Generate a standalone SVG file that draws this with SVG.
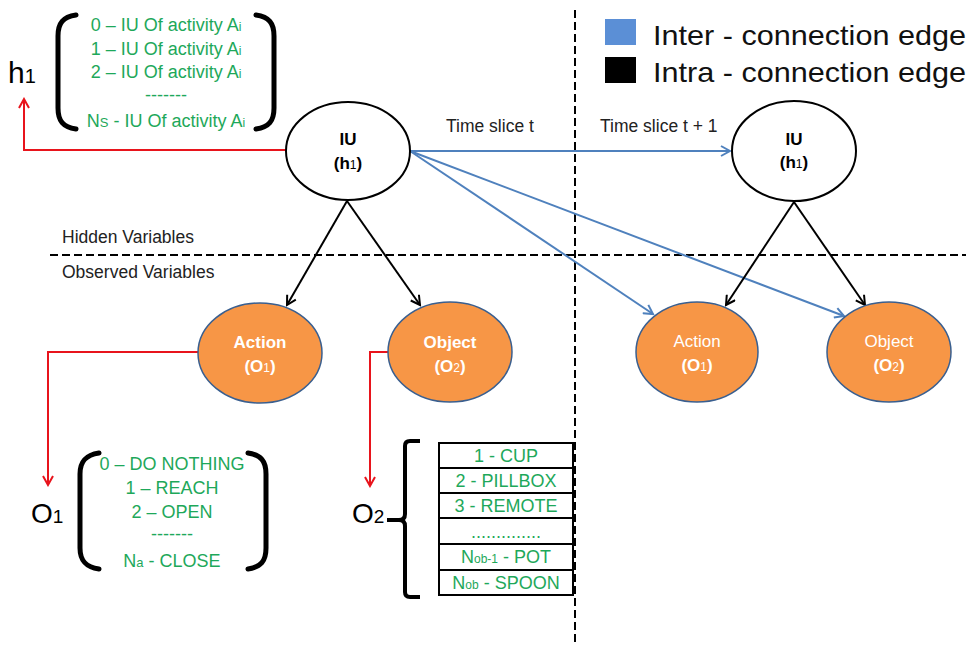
<svg xmlns="http://www.w3.org/2000/svg" width="969" height="645" viewBox="0 0 969 645">
<style>
text{font-family:"Liberation Sans",Arial,sans-serif}
.g{fill:#1ea85a;font-size:18px;text-anchor:middle}
.lbl{font-size:17.5px;fill:#222}
.wh{fill:#fff;font-size:17px;text-anchor:middle}
.bo{font-weight:bold}
.hid{fill:#fff;stroke:#000;stroke-width:2}
.obs{fill:#f79646;stroke:#3a5f8f;stroke-width:1.5}
.br{fill:none;stroke:#000;stroke-width:5;stroke-linecap:round}
.dash{stroke:#000;stroke-width:2;stroke-dasharray:8,4;fill:none}
.blue{stroke:#4f81bd;stroke-width:2;fill:none;marker-end:url(#ab)}
.black{stroke:#000;stroke-width:2;fill:none;marker-end:url(#ak)}
.red{stroke:#e8141c;stroke-width:2;fill:none;marker-end:url(#ar)}
.cell{fill:#fff;stroke:#000;stroke-width:2}
</style>
<defs>
<marker id="ab" markerWidth="12" markerHeight="12" refX="10" refY="6" orient="auto" markerUnits="userSpaceOnUse"><path d="M1,1 L10,6 L1,11" fill="none" stroke="#4f81bd" stroke-width="2"/></marker>
<marker id="ak" markerWidth="12" markerHeight="12" refX="10" refY="6" orient="auto" markerUnits="userSpaceOnUse"><path d="M1,1 L10,6 L1,11" fill="none" stroke="#000" stroke-width="2"/></marker>
<marker id="ar" markerWidth="12" markerHeight="12" refX="10" refY="6" orient="auto" markerUnits="userSpaceOnUse"><path d="M1,1 L10,6 L1,11" fill="none" stroke="#e8141c" stroke-width="2"/></marker>
</defs>
<rect width="969" height="645" fill="#fff"/>

<g id="dividers">
<line class="dash" x1="50" y1="255" x2="966" y2="255"/>
<line class="dash" x1="575" y1="10" x2="575" y2="645"/>
<text class="lbl" x="62" y="243">Hidden Variables</text>
<text class="lbl" x="62" y="278">Observed Variables</text>
</g>

<g id="legend">
<rect x="605" y="19" width="31" height="26" fill="#5b8fd6"/>
<rect x="605" y="57" width="31" height="26" fill="#000"/>
<text x="653" y="45" font-size="28" textLength="313" lengthAdjust="spacingAndGlyphs" fill="#111">Inter - connection edge</text>
<text x="653" y="82" font-size="28" textLength="313" lengthAdjust="spacingAndGlyphs" fill="#111">Intra - connection edge</text>
</g>

<g id="connectors">
<line class="blue" x1="410" y1="151" x2="730" y2="151"/>
<line class="blue" x1="410" y1="151" x2="653" y2="314"/>
<line class="blue" x1="410" y1="151" x2="844" y2="316"/>
<line class="black" x1="347" y1="201" x2="287" y2="305"/>
<line class="black" x1="347" y1="201" x2="420" y2="305"/>
<line class="black" x1="794" y1="202" x2="726" y2="305"/>
<line class="black" x1="794" y1="202" x2="865" y2="305"/>
<polyline class="red" points="286,150 24,150 24,99"/>
<polyline class="red" points="198,352 48,352 48,485"/>
<polyline class="red" points="388,352 370,352 370,486"/>
<text class="lbl" x="446" y="132">Time slice t</text>
<text class="lbl" x="600" y="132">Time slice t + 1</text>
</g>

<g id="iu-t">
<ellipse class="hid" cx="348" cy="151" rx="62" ry="49"/>
<text class="bo" x="348" y="145" font-size="17" text-anchor="middle">IU</text>
<text class="bo" x="348" y="169" font-size="17" text-anchor="middle">(h<tspan font-size="12" font-weight="normal">1</tspan>)</text>
</g>

<g id="iu-t1">
<ellipse class="hid" cx="794" cy="151" rx="62" ry="50"/>
<text class="bo" x="794" y="145" font-size="17" text-anchor="middle">IU</text>
<text class="bo" x="794" y="168" font-size="17" text-anchor="middle">(h<tspan font-size="12" font-weight="normal">1</tspan>)</text>
</g>

<g id="action-t">
<ellipse class="obs" cx="260" cy="353" rx="62" ry="50"/>
<text class="wh bo" x="260" y="348">Action</text>
<text class="wh bo" x="260" y="372">(O<tspan font-size="12" font-weight="normal">1</tspan>)</text>
</g>

<g id="object-t">
<ellipse class="obs" cx="450" cy="352" rx="62" ry="50"/>
<text class="wh bo" x="450" y="348">Object</text>
<text class="wh bo" x="450" y="372">(O<tspan font-size="12" font-weight="normal">2</tspan>)</text>
</g>

<g id="action-t1">
<ellipse class="obs" cx="697" cy="352" rx="61" ry="50"/>
<text class="wh" x="697" y="347" font-size="18">Action</text>
<text class="wh bo" x="697" y="371">(O<tspan font-size="12" font-weight="normal">1</tspan>)</text>
</g>

<g id="object-t1">
<ellipse class="obs" cx="889" cy="352" rx="62" ry="50"/>
<text class="wh" x="889" y="347" font-size="18">Object</text>
<text class="wh bo" x="889" y="371">(O<tspan font-size="12" font-weight="normal">2</tspan>)</text>
</g>

<g id="h1-domain">
<text x="8" y="83" font-size="30" fill="#000">h<tspan font-size="20">1</tspan></text>
<path class="br" d="M76,15 C63,17 58,23 58,36 V108 C58,121 63,127 76,129"/>
<path class="br" d="M256,15 C269,17 274,23 274,36 V108 C274,121 269,127 256,129"/>
<text class="g" x="166" y="31" font-size="19">0 – IU Of activity A<tspan font-size="12">i</tspan></text>
<text class="g" x="166" y="55" font-size="19">1 – IU Of activity A<tspan font-size="12">i</tspan></text>
<text class="g" x="166" y="78" font-size="19">2 – IU Of activity A<tspan font-size="12">i</tspan></text>
<text class="g" x="166" y="101" font-size="19">-------</text>
<text class="g" x="166" y="127" font-size="19">N<tspan font-size="13">S</tspan> - IU Of activity A<tspan font-size="12">i</tspan></text>
</g>

<g id="o1-domain">
<text x="31" y="523" font-size="28" fill="#000">O<tspan font-size="19">1</tspan></text>
<path class="br" d="M99,453 C86,455 80,461 80,474 V548 C80,561 86,567 99,569"/>
<path class="br" d="M248,453 C261,455 266,461 266,474 V548 C266,561 261,567 248,569"/>
<text class="g" x="172" y="470">0 – DO NOTHING</text>
<text class="g" x="172" y="494">1 – REACH</text>
<text class="g" x="172" y="518">2 – OPEN</text>
<text class="g" x="172" y="540">-------</text>
<text class="g" x="172" y="567">N<tspan font-size="13">a</tspan> - CLOSE</text>
</g>

<g id="o2-domain">
<text x="352" y="523" font-size="28" fill="#000">O<tspan font-size="19">2</tspan></text>
<path fill="none" stroke="#000" stroke-width="4" stroke-linejoin="round" d="M420,441 H410 Q405,441 405,446 V514 Q405,520 399,520 H387 M399,520 Q405,520 405,526 V592 Q405,597 410,597 H420"/>
<rect class="cell" x="439" y="443" width="134" height="25"/>
<rect class="cell" x="439" y="468" width="134" height="25"/>
<rect class="cell" x="439" y="493" width="134" height="25"/>
<rect class="cell" x="439" y="518" width="134" height="26"/>
<rect class="cell" x="439" y="544" width="134" height="26"/>
<rect class="cell" x="439" y="570" width="134" height="25"/>
<text class="g" x="506" y="462" font-size="17">1 - CUP</text>
<text class="g" x="506" y="487" font-size="17">2 - PILLBOX</text>
<text class="g" x="506" y="512" font-size="17">3 - REMOTE</text>
<text class="g" x="506" y="538" font-size="17">..............</text>
<text class="g" x="506" y="563" font-size="17">N<tspan font-size="12">ob-1</tspan> - POT</text>
<text class="g" x="506" y="589" font-size="17">N<tspan font-size="12">ob</tspan> - SPOON</text>
</g>
</svg>
